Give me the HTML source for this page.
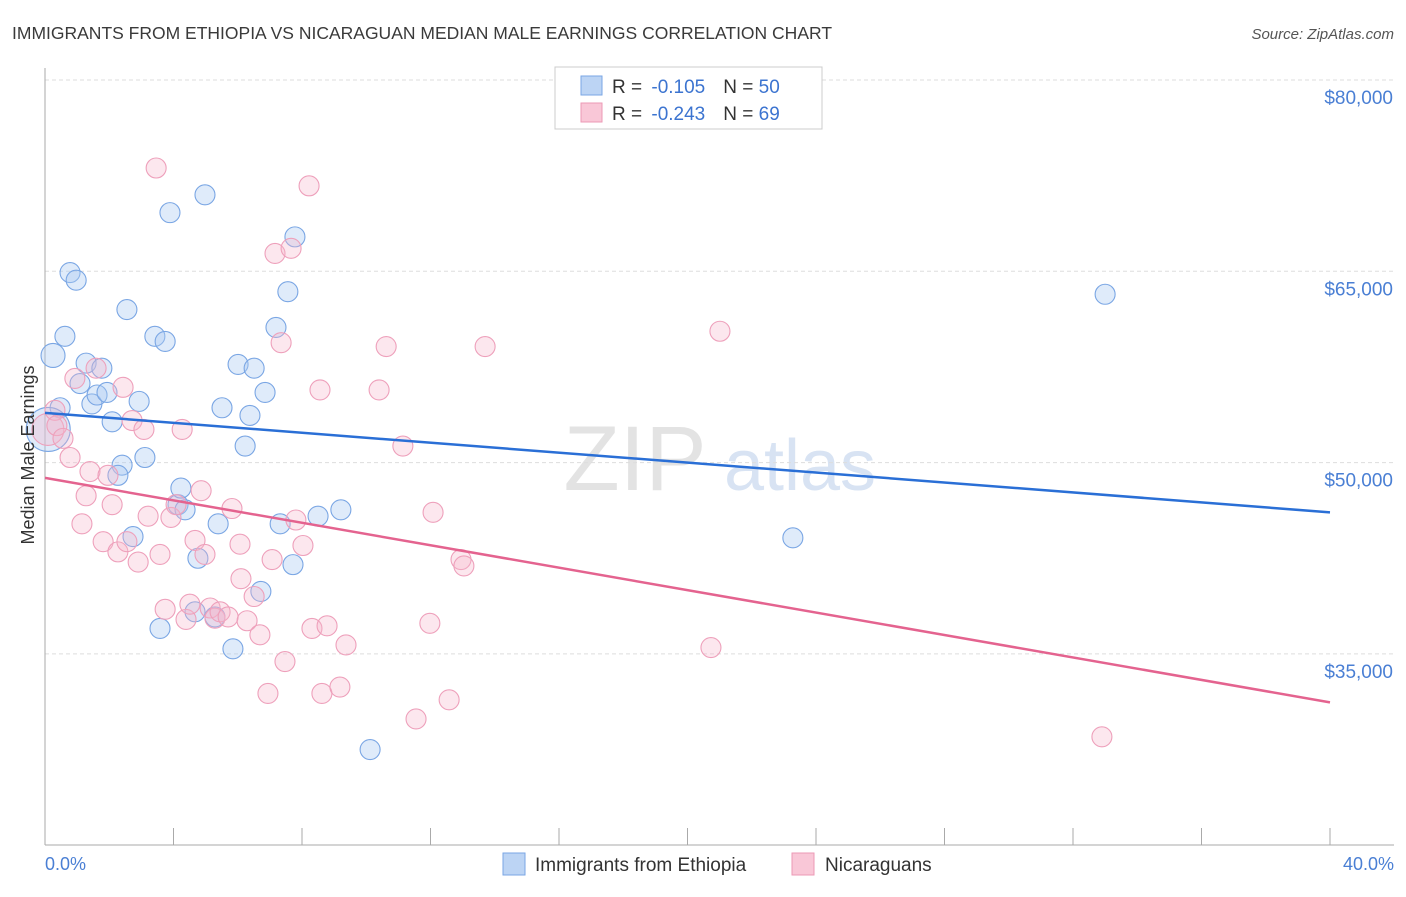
<!DOCTYPE html>
<html><head><meta charset="utf-8"><style>
body{margin:0;background:#fff;font-family:"Liberation Sans",sans-serif}
svg text{font-family:"Liberation Sans",sans-serif}
</style></head><body>
<svg id="chart" width="1406" height="892" xmlns="http://www.w3.org/2000/svg">
<text x="12" y="39" font-size="17.5" fill="#3a3a3a">IMMIGRANTS FROM ETHIOPIA VS NICARAGUAN MEDIAN MALE EARNINGS CORRELATION CHART</text>
<text x="1394" y="39" font-size="15" fill="#555" text-anchor="end" font-style="italic">Source: ZipAtlas.com</text>
<g><text x="635" y="490" font-size="92" fill="#ddd" text-anchor="middle" font-family="Liberation Serif" opacity="0.8">ZIP</text><text x="800" y="490" font-size="72" fill="#c8d8ee" text-anchor="middle" opacity="0.7">atlas</text></g>
<g id="grid"></g><g id="axes"></g><g id="marks"></g><g id="trends"></g>
<text transform="translate(34,455) rotate(-90)" font-size="18" fill="#333" text-anchor="middle">Median Male Earnings</text>
<text x="45" y="870" font-size="18" fill="#4a7fd4">0.0%</text>
<text x="1394" y="870" font-size="18" fill="#4a7fd4" text-anchor="end">40.0%</text>
<g>
<rect x="555" y="67" width="267" height="62" fill="#fff" stroke="#ccc"/>
<rect x="581" y="76" width="21" height="19" fill="#bcd4f4" stroke="#7aa6e4"/>
<rect x="581" y="103" width="21" height="19" fill="#f9c7d7" stroke="#ec9ab6"/>
<text x="612" y="93" font-size="19" fill="#333">R = <tspan dx="4" fill="#3c74d0">-0.105</tspan><tspan dx="18">N = </tspan><tspan fill="#3c74d0">50</tspan></text>
<text x="612" y="120" font-size="19" fill="#333">R = <tspan dx="4" fill="#3c74d0">-0.243</tspan><tspan dx="18">N = </tspan><tspan fill="#3c74d0">69</tspan></text>
</g>
<g>
<rect x="503" y="853" width="22" height="22" fill="#bcd4f4" stroke="#7aa6e4"/>
<text x="535" y="871" font-size="19" fill="#333">Immigrants from Ethiopia</text>
<rect x="792" y="853" width="22" height="22" fill="#f9c7d7" stroke="#ec9ab6"/>
<text x="825" y="871" font-size="19" fill="#333">Nicaraguans</text>
</g>
</svg>
<script>
const yTicks=[80000,65000,50000,35000];
const yTickLabels=["$80,000","$65,000","$50,000","$35,000"];
const xTicks=[0,4,8,12,16,20,24,28,32,36,40];
const blueX=[0.25,0.47,0.62,0.78,0.97,1.09,1.28,1.46,1.62,1.77,1.93,2.09,2.40,2.27,2.55,2.74,2.93,3.11,3.42,3.58,3.74,3.89,4.14,4.23,4.36,4.67,4.76,4.98,5.29,5.39,5.51,5.85,6.01,6.23,6.38,6.51,6.72,6.85,7.19,7.32,7.56,7.72,7.78,8.50,9.21,10.12,23.28,33.0,0.1];
const blueY=[58.4,54.3,59.9,64.9,64.3,56.2,57.8,54.6,55.3,57.4,55.5,53.2,49.8,49.0,62.0,44.2,54.8,50.4,59.9,37.0,59.5,69.6,46.7,48.0,46.3,38.3,42.5,71.0,37.9,45.2,54.3,35.4,57.7,51.3,53.7,57.4,39.9,55.5,60.6,45.2,63.4,42.0,67.7,45.8,46.3,27.5,44.1,63.2,52.6];
const blueSize=[12,10,10,10,10,10,10,10,10,10,10,10,10,10,10,10,10,10,10,10,10,10,10,10,10,10,10,10,10,10,10,10,10,10,10,10,10,10,10,10,10,10,10,10,10,10,10,10,22];
const pinkX=[0.09,0.31,0.37,0.56,0.78,0.93,1.15,1.28,1.40,1.59,1.81,1.96,2.09,2.27,2.43,2.55,2.71,2.90,3.08,3.21,3.46,3.58,3.74,3.92,4.08,4.27,4.39,4.51,4.67,4.86,4.98,5.14,5.29,5.45,5.70,5.82,6.07,6.10,6.29,6.51,6.69,6.94,7.07,7.16,7.35,7.47,7.66,7.81,8.03,8.22,8.31,8.56,8.62,8.78,9.18,9.37,10.62,10.40,11.14,11.55,11.98,12.08,12.58,12.95,13.04,13.70,20.73,21.01,32.90];
const pinkY=[52.6,54.1,52.9,51.9,50.4,56.6,45.2,47.4,49.3,57.4,43.8,49.0,46.7,43.0,55.9,43.8,53.3,42.2,52.6,45.8,73.1,42.8,38.5,45.7,46.7,52.6,37.7,38.9,43.9,47.8,42.8,38.6,37.8,38.3,37.9,46.4,43.6,40.9,37.6,39.5,36.5,31.9,42.4,66.4,59.4,34.4,66.8,45.5,43.5,71.7,37.0,55.7,31.9,37.2,32.4,35.7,59.1,55.7,51.3,29.9,37.4,46.1,31.4,42.4,41.9,59.1,35.5,60.3,28.5];
const blueTrend=[53.9,46.1];
const pinkTrend=[48.8,31.2];
const NS="http://www.w3.org/2000/svg";
const xs=v=>45+v/40*1285;
const ys=v=>80+(80000-v)/15000*191.3;
const yk=v=>ys(v*1000);
function mk(t,a,p){const e=document.createElementNS(NS,t);for(const k in a)e.setAttribute(k,a[k]);document.getElementById(p).appendChild(e);return e;}
yTicks.forEach((t,i)=>{
 const l=mk('line',{x1:45,x2:1394,y1:ys(t),y2:ys(t),stroke:'#ddd','stroke-dasharray':'4,3'},'grid');
 
 
 const tx=mk('text',{x:1393,y:ys(t)+24,'font-size':19,fill:'#4a7fd4','text-anchor':'end'},'grid');
 tx.textContent=yTickLabels[i];
 
 
});
const ax=mk('line',{x1:45,x2:45,y1:68,y2:845,stroke:'#aaa'},'axes');


const bx=mk('line',{x1:45,x2:1394,y1:845,y2:845,stroke:'#aaa'},'axes');


xTicks.forEach(t=>{
 const l=mk('line',{x1:xs(t),x2:xs(t),y1:828,y2:845,stroke:'#aaa'},'axes');
 
 
});
blueX.forEach((x,i)=>{
 const c=mk('circle',{cx:xs(x),cy:yk(blueY[i]),r:blueSize[i],fill:'rgba(170,202,242,0.38)',stroke:'#7aa6e4','stroke-width':1.1},'marks');
 
 
});
pinkX.forEach((x,i)=>{
 const c=mk('circle',{cx:xs(x),cy:yk(pinkY[i]),r:i==0?16:10,fill:'rgba(246,182,203,0.33)',stroke:'#eea0bb','stroke-width':1.1},'marks');
 
 
});
const t1=mk('line',{x1:xs(0),x2:xs(40),y1:yk(blueTrend[0]),y2:yk(blueTrend[1]),stroke:'#2a6fd6','stroke-width':2.5},'trends');


const t2=mk('line',{x1:xs(0),x2:xs(40),y1:yk(pinkTrend[0]),y2:yk(pinkTrend[1]),stroke:'#e4638f','stroke-width':2.5},'trends');


</script>
</body></html>
